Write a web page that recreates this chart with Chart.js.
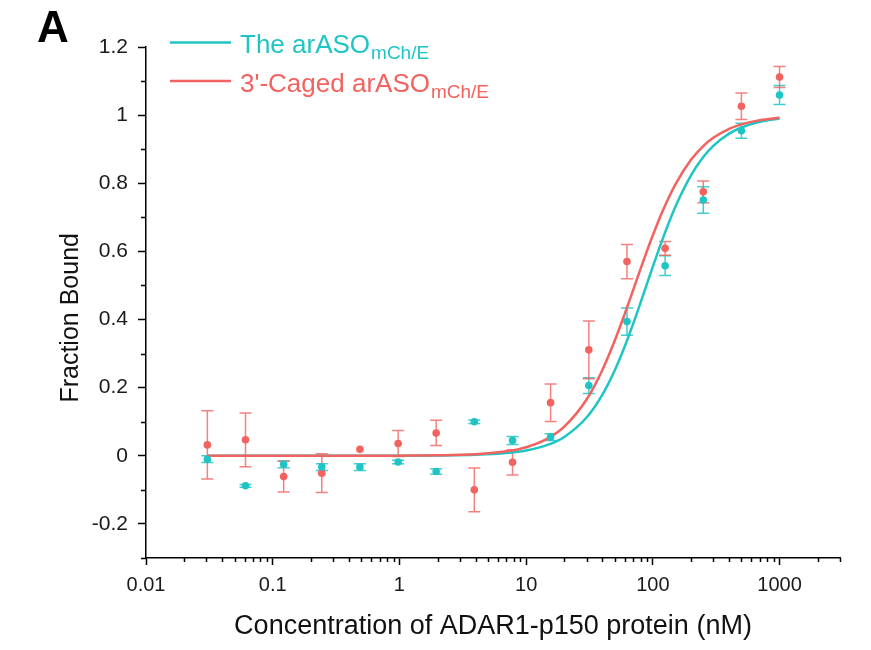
<!DOCTYPE html>
<html>
<head>
<meta charset="utf-8">
<script src="https://cdn.jsdelivr.net/npm/chart.js@4.4.0/dist/chart.umd.min.js"></script>
<style>
html,body{margin:0;padding:0;background:#fff;}
canvas{display:block;}
</style>
</head>
<body>
<canvas id="c" width="871" height="650"></canvas>
<script>
// ---------- data ----------
const CONCENTRATIONS = [0.0305, 0.061, 0.122, 0.244, 0.488, 0.977, 1.95, 3.9, 7.81, 15.6, 31.25, 62.5, 125, 250, 500, 1000];
const CYAN_Y   = [-0.010, -0.088, -0.025, -0.033, -0.033, -0.018, -0.046, 0.100, 0.045, 0.055, 0.206, 0.394, 0.558, 0.751, 0.954, 1.059];
const CYAN_ERR = [0.010, 0.004, 0.010, 0.010, 0.010, 0.005, 0.008, 0.005, 0.012, 0.010, 0.023, 0.040, 0.029, 0.039, 0.022, 0.028];
const RED_Y    = [0.032, 0.047, -0.061, -0.051, 0.019, 0.036, 0.067, -0.100, -0.019, 0.156, 0.311, 0.570, 0.609, 0.775, 1.026, 1.112];
const RED_ERR  = [0.100, 0.079, 0.045, 0.057, 0.000, 0.038, 0.037, 0.064, 0.037, 0.055, 0.085, 0.050, 0.020, 0.032, 0.039, 0.031];

// fitted curves, values
const CURVE_X   = [0.0305, 0.1, 0.5, 1, 2, 4, 7, 10, 15, 20, 30, 40, 50, 60, 70, 80, 90, 100, 120, 150, 200, 250, 300, 400, 500, 700, 1000];
const CYAN_FIT  = [0, 0, 0.0001, 0.0002, 0.0007, 0.0028, 0.0079, 0.0155, 0.0328, 0.0554, 0.1124, 0.1796, 0.2506, 0.321, 0.3879, 0.4495, 0.5053, 0.5552, 0.6383, 0.7295, 0.8232, 0.8768, 0.9096, 0.9456, 0.9637, 0.9805, 0.990];
const RED_FIT   = [0, 0, 0.0001, 0.0004, 0.0013, 0.0047, 0.0132, 0.0253, 0.052, 0.0855, 0.1653, 0.2521, 0.3375, 0.4165, 0.487, 0.5486, 0.6018, 0.6474, 0.720, 0.7954, 0.8688, 0.9091, 0.9334, 0.9598, 0.973, 0.9853, 0.9924];

const X_TICK_LABELS = ['0.01', '0.1', '1', '10', '100', '1000'];
const SERIES_MAIN = ['The arASO', "3'-Caged arASO"];
const SERIES_SUB  = ['mCh/E', 'mCh/E'];
const X_TITLE = 'Concentration of ADAR1-p150 protein (nM)';
const Y_TITLE = 'Fraction Bound';
const PANEL = 'A';

// ---------- styles ----------
const CYAN = '#1fc5c5';
const RED  = '#f2625f';
const CYAN_BAR = 'rgba(31,197,197,0.85)';
const RED_BAR  = 'rgba(242,98,95,0.8)';
const FONT = '"Liberation Sans", Arial, sans-serif';

const pts = (xs, ys) => xs.map((x, i) => ({x: x, y: ys[i]}));

const errorBars = {
  id: 'errorBars',
  beforeDatasetsDraw(chart) {
    const {ctx, scales: {x, y}} = chart;
    const sets = [[CYAN_Y, CYAN_ERR, CYAN_BAR], [RED_Y, RED_ERR, RED_BAR]];
    ctx.save();
    ctx.lineWidth = 1.5;
    sets.forEach(([vals, errs, col]) => {
      ctx.strokeStyle = col;
      CONCENTRATIONS.forEach((c, i) => {
        if (!errs[i]) return;
        const px = x.getPixelForValue(c);
        const top = y.getPixelForValue(vals[i] + errs[i]);
        const bot = y.getPixelForValue(vals[i] - errs[i]);
        ctx.beginPath();
        ctx.moveTo(px, top); ctx.lineTo(px, bot);
        ctx.moveTo(px - 6, top); ctx.lineTo(px + 6, top);
        ctx.moveTo(px - 6, bot); ctx.lineTo(px + 6, bot);
        ctx.stroke();
      });
    });
    ctx.restore();
  }
};

const extras = {
  id: 'extras',
  afterDraw(chart) {
    const {ctx, scales: {x, y}, chartArea} = chart;
    ctx.save();
    // minor ticks
    ctx.strokeStyle = '#000';
    ctx.lineWidth = 1.5;
    ctx.beginPath();
    for (let d = -2; d <= 3; d++) {
      for (let m = 2; m <= 9; m++) {
        const v = m * Math.pow(10, d);
        if (v > 3000.0001) continue;
        const px = Math.round(x.getPixelForValue(v)) + 0.5;
        ctx.moveTo(px, chartArea.bottom);
        ctx.lineTo(px, chartArea.bottom + 4);
      }
    }
    for (let k = -3; k <= 11; k += 2) {
      const py = Math.round(y.getPixelForValue(k / 10)) + 0.5;
      ctx.moveTo(chartArea.left, py);
      ctx.lineTo(chartArea.left - 5, py);
    }
    ctx.stroke();

    // y axis title (placed slightly below the axis centre, as in the source)
    ctx.save();
    ctx.translate(71, y.getPixelForValue(0.405));
    ctx.rotate(-Math.PI / 2);
    ctx.fillStyle = '#111';
    ctx.font = '25px ' + FONT;
    ctx.textAlign = 'center';
    ctx.textBaseline = 'middle';
    ctx.fillText(Y_TITLE, 0, 0);
    ctx.restore();

    // legend
    const rows = [42.5, 81];
    const cols = [CYAN, RED];
    rows.forEach((ly, i) => {
      ctx.strokeStyle = cols[i];
      ctx.lineWidth = 2.5;
      ctx.beginPath();
      ctx.moveTo(170, ly); ctx.lineTo(231, ly);
      ctx.stroke();
      ctx.fillStyle = cols[i];
      ctx.textBaseline = 'alphabetic';
      ctx.textAlign = 'left';
      ctx.font = '26px ' + FONT;
      ctx.fillText(SERIES_MAIN[i], 240, ly + 10.7);
      const w = ctx.measureText(SERIES_MAIN[i]).width;
      ctx.font = '19px ' + FONT;
      ctx.fillText(SERIES_SUB[i], 240 + w + 1, ly + 16.8);
    });

    // panel label
    ctx.fillStyle = '#000';
    ctx.font = 'bold 44px ' + FONT;
    ctx.fillText(PANEL, 37, 42);
    ctx.restore();
  }
};

const bg = {
  id: 'bg',
  beforeDraw(chart) {
    const ctx = chart.ctx;
    ctx.save();
    ctx.fillStyle = '#fff';
    ctx.fillRect(0, 0, chart.width, chart.height);
    ctx.restore();
  }
};

new Chart(document.getElementById('c'), {
  type: 'scatter',
  data: {
    datasets: [
      {label: 'cyan fit', type: 'line', data: pts(CURVE_X, CYAN_FIT), borderColor: CYAN, borderWidth: 2.5,
       pointRadius: 0, fill: false, cubicInterpolationMode: 'monotone', order: 4},
      {label: 'red fit', type: 'line', data: pts(CURVE_X, RED_FIT), borderColor: RED, borderWidth: 2.5,
       pointRadius: 0, fill: false, cubicInterpolationMode: 'monotone', order: 3},
      {label: 'red pts', data: pts(CONCENTRATIONS, RED_Y), backgroundColor: RED, borderWidth: 0,
       pointRadius: 3.8, showLine: false, order: 2},
      {label: 'cyan pts', data: pts(CONCENTRATIONS, CYAN_Y), backgroundColor: CYAN, borderWidth: 0,
       pointRadius: 3.8, showLine: false, order: 1}
    ]
  },
  options: {
    responsive: false,
    animation: false,
    devicePixelRatio: 1,
    layout: {padding: {left: 0, top: 47, right: 31, bottom: 0}},
    plugins: {legend: {display: false}, tooltip: {enabled: false}},
    scales: {
      x: {
        type: 'logarithmic', min: 0.01, max: 3000,
        afterFit(s) { s.height = 92; },
        ticks: {
          autoSkip: false, maxRotation: 0, minRotation: 0, padding: 8,
          color: '#1a1a1a', font: {size: 20, family: FONT},
          callback(v) {
            const e = Math.log10(v), r = Math.round(e);
            return Math.abs(e - r) < 1e-6 ? X_TICK_LABELS[r + 2] : '';
          }
        },
        grid: {
          display: true, drawOnChartArea: false, drawTicks: true, tickLength: 7, tickWidth: 1.5,
          tickColor(ctx) {
            if (!ctx.tick) return 'rgba(0,0,0,0)';
            const e = Math.log10(ctx.tick.value);
            return Math.abs(e - Math.round(e)) < 1e-6 ? '#000' : 'rgba(0,0,0,0)';
          }
        },
        border: {display: true, color: '#000', width: 1.5},
        title: {display: true, text: X_TITLE, color: '#111', font: {size: 27, family: FONT}, padding: {top: 0, bottom: 7}}
      },
      y: {
        type: 'linear', min: -0.3, max: 1.2,
        afterFit(s) { s.width = 146; },
        ticks: {
          stepSize: 0.1, autoSkip: false, padding: 10,
          color: '#1a1a1a', font: {size: 21, family: FONT},
          callback(v) {
            const k = Math.round(v * 10);
            return k % 2 === 0 ? String(k / 10) : '';
          }
        },
        grid: {
          display: true, drawOnChartArea: false, drawTicks: true, tickLength: 8, tickWidth: 1.5,
          tickColor(ctx) {
            if (!ctx.tick) return 'rgba(0,0,0,0)';
            return Math.round(ctx.tick.value * 10) % 2 === 0 ? '#000' : 'rgba(0,0,0,0)';
          }
        },
        border: {display: true, color: '#000', width: 1.5},
        title: {display: false}
      }
    }
  },
  plugins: [bg, errorBars, extras]
});
</script>
</body>
</html>
